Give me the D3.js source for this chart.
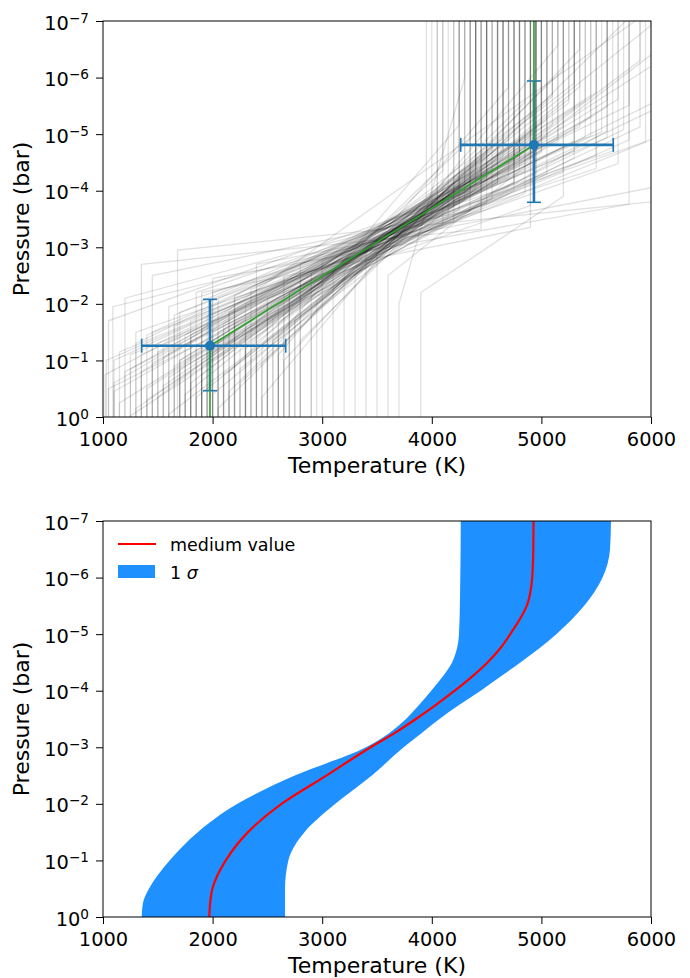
<!DOCTYPE html>
<html><head><meta charset="utf-8">
<script src="https://cdn.jsdelivr.net/npm/d3@7"></script>
<style>
body{margin:0;background:#fff}
text{font-family:"DejaVu Sans",sans-serif;fill:#000}
</style>
</head><body>
<svg id="c" width="690" height="978"></svg>
<script>
// ---------- DATA ----------
// Top panel: posterior sample profiles [T1 (K), log10 P1 (bar), T2 (K), log10 P2 (bar)]
const samples = [
 [1980,-1.10,4930,-4.60],[1350,-0.80,4300,-4.15],[2650,-1.80,5600,-5.06],[1700,-1.00,5200,-5.14],
 [2200,-1.65,4600,-4.14],[1100,-0.60,3950,-3.85],[2400,-1.20,5900,-6.30],[1500,-1.15,4800,-4.37],
 [1850,-0.35,5000,-5.20],[2900,-2.55,5400,-5.59],[1250,-0.02,4400,-4.04],[2050,-2.10,4700,-4.24],
 [1680,-2.95,6500,-3.90],[3200,-2.60,5100,-5.70],[1400,-1.45,4500,-3.78],[2300,-1.20,4100,-4.35],
 [1050,-0.50,5300,-4.58],[2600,-1.65,6000,-6.92],[1900,-0.90,4800,-4.57],[2100,-1.55,5500,-5.74],
 [1600,-0.05,4600,-4.48],[3500,-2.90,5800,-4.90],[3900,-2.20,5200,-3.90],[1200,-2.10,4000,-3.56],
 [2500,-2.10,4900,-3.74],[1800,-1.70,5300,-4.71],[2750,-1.75,4400,-4.37],[1300,-1.30,5800,-5.51],
 [2000,-0.40,4250,-3.99],[1750,-1.45,4950,-4.48],[2200,-2.10,5700,-4.48],[1550,-1.05,4650,-4.60],
 [2450,-0.95,5100,-5.67],[1450,-2.50,4350,-3.65],[1950,-1.20,5050,-4.30],[2800,-2.70,6200,-5.04],
 [1150,-1.15,4750,-4.02],[2350,-2.25,5350,-5.13],[1650,-0.90,4150,-3.53],[2150,-0.45,4850,-5.57],
 [3300,-2.50,4550,-4.79],[1020,-0.75,5450,-5.30],[2550,-1.35,4450,-4.34],[1850,-2.20,5650,-4.70],
 [2250,-0.85,6100,-6.55],[1400,-0.50,4050,-3.81],[2700,-1.95,5000,-4.89],[1750,-1.00,4400,-4.51],
 [2050,-1.50,4950,-4.21],[3000,-2.75,5500,-4.63],[1300,-1.50,4200,-3.45],[2400,-2.70,6500,-4.24],
 [1600,-1.15,5900,-5.13],[2600,-1.10,4700,-5.83],[1900,-2.20,4900,-3.35],[1100,-1.00,4600,-4.15],
 [2050,-0.15,5200,-6.14],[3700,-2.00,4300,-6.00],[1500,-0.35,4900,-5.37],[2300,-1.30,5600,-5.49],
 [1700,-1.85,4250,-3.66],[2900,-1.80,4650,-4.93],[1250,-0.85,5050,-4.97],[2150,-1.85,5950,-4.86],
 [1800,-1.40,4500,-4.33],[3400,-3.00,6100,-5.50],[1950,-0.95,5250,-5.55],[2500,-1.70,4800,-4.63],
 [1050,-1.70,4350,-4.00],[2650,-1.00,5350,-6.50],[1600,-1.95,5500,-4.39],[2250,-0.60,4500,-4.68],
 [1450,-1.50,4750,-4.42],[2000,-2.45,5800,-3.76],[3100,-2.60,5300,-5.90],[1350,-2.70,4450,-3.32],
 [1750,-0.40,4600,-4.85],[2350,-1.25,4950,-5.10],[1900,-2.05,5450,-4.97],[2100,-0.75,4350,-4.05],
 [1150,-0.25,5600,-5.60],[2700,-2.20,5750,-5.08],[1650,-1.80,4050,-3.77],[2450,-0.35,5150,-6.57],
 [1550,-1.25,5150,-4.94],[2000,-1.15,4550,-3.86],[3600,-2.50,4900,-4.50],[1850,-1.00,5700,-5.62],
 [2200,-2.15,4250,-4.10],[1250,-1.10,4850,-3.95],[2600,-1.95,6600,-6.95],[2300,-2.00,6800,-6.30],
 [1900,-1.55,6400,-7.75],[2800,-1.35,5900,-7.25],[2050,-1.30,4650,-4.80],[1700,-0.85,4750,-4.15],
 [2400,-1.70,4850,-4.80],[1950,-1.30,5000,-4.70],[2150,-1.85,4400,-4.35],[1800,-0.75,4900,-4.65],
 [1090,-1.95,4100,-3.40],[1030,-1.00,4950,-4.30],
 [1900,-1.00,4700,-4.61],[2300,-1.60,5000,-4.98],[1600,-0.70,4800,-4.69],[2100,-1.20,4600,-4.58],
 [2500,-2.00,4450,-4.01],[1400,-0.30,5100,-5.16],[2200,-1.90,5000,-4.68],[1800,-0.60,4500,-4.65],
 [2700,-2.20,4950,-4.70],[1500,-1.30,5400,-4.95],[2000,-1.50,4300,-3.84],[2350,-1.05,4650,-4.73],
 [1200,-0.80,5300,-4.88],[2600,-1.40,4550,-4.73],[1950,-1.80,5200,-4.33],[1700,-1.00,4400,-4.13],
 [2450,-1.30,5250,-5.62],[1350,-1.10,4750,-4.15],[2800,-2.40,5150,-4.87],[2150,-0.80,4350,-4.91],
 [1850,-1.25,4500,-4.26],[2250,-1.35,5050,-5.25],[1650,-1.60,4850,-4.35],[2550,-1.75,4700,-4.90],
 [1100,-0.45,4500,-4.19],[2050,-1.05,4950,-5.03],[2400,-2.30,5550,-5.04],[1750,-1.25,4200,-3.73],
 [2950,-2.05,4400,-4.44],[1550,-0.55,4900,-4.95],[2100,-1.65,4750,-4.49],[1900,-0.75,4650,-4.77],
 [2650,-2.50,5600,-4.94],[1450,-0.95,5050,-4.82],[2300,-1.45,5300,-5.45],[2000,-2.20,4450,-3.65],
 [1800,-1.45,4950,-4.66],[2500,-1.20,4250,-5.16],[1300,-0.15,4800,-4.77],[2750,-1.70,5350,-5.84]
];
// Top panel: median parameters with asymmetric errors
const medT = [1976, 4932];          // K
const medTlo = [1353, 4264];
const medThi = [2667, 5656];
const medLogP = [-1.26, -4.81];     // log10 bar
const medLogPlo = [-0.465, -3.795]; // deeper (higher P)
const medLogPhi = [-2.08, -5.94];   // higher altitude

// Bottom panel: profile percentiles at pressure levels (log10 bar)
const logPLevels = [0,-0.25,-0.5,-1,-1.5,-2,-2.5,-3,-3.25,-3.5,-3.75,-4,-4.25,-4.5,-4.75,-5,-5.5,-6,-6.5,-7];
const medianT = [1970,1978,1998,2120,2323,2629,3038,3442,3660,3855,4038,4209,4367,4508,4625,4716,4866,4916,4926,4928];
const lowerT  = [1353,1365,1419,1608,1865,2227,2750,3400,3610,3765,3885,3995,4100,4185,4230,4248,4256,4260,4263,4264];
const upperT  = [2661,2661,2661,2691,2838,3120,3453,3743,3906,4070,4252,4446,4628,4808,4982,5136,5390,5558,5626,5635];

// Axis ticks
const xMajor = [1000,2000,3000,4000,5000,6000];
const yMajorExp = [-7,-6,-5,-4,-3,-2,-1,0];

// ---------- DRAW ----------
const svg = d3.select("#c");
const X0 = 103, X1 = 651;
const x = d3.scaleLinear().domain([1000,6000]).range([X0,X1]);
const xMinor = d3.range(1000,6001,200).filter(v => v % 1000 !== 0);
const yMinor = [];
for (let e=-7; e<0; e++) for (let k=2;k<=9;k++) yMinor.push(k*Math.pow(10,e));

function drawAxes(y, top, bottom) {
  const gx = svg.append("g").attr("transform",`translate(0,${bottom})`);
  gx.call(d3.axisBottom(x).tickValues(xMinor).tickSize(4).tickFormat(""));
  gx.call(d3.axisBottom(x).tickValues(xMajor).tickSize(7).tickPadding(8).tickFormat(d3.format("d")));
  gx.select(".domain").remove();
  gx.selectAll("text").attr("font-size",19.4).attr("font-family","DejaVu Sans").attr("fill","#000");
  gx.selectAll("line").attr("stroke","#000");

  const gy = svg.append("g").attr("transform",`translate(${X0},0)`);
  gy.call(d3.axisLeft(y).tickValues(yMinor).tickSize(4).tickFormat(""));
  gy.call(d3.axisLeft(y).tickValues(yMajorExp.map(e=>Math.pow(10,e))).tickSize(7).tickPadding(7).tickFormat(""));
  gy.select(".domain").remove();
  gy.selectAll("line").attr("stroke","#000");
  yMajorExp.forEach(e => {
    const t = svg.append("text").attr("x", 89).attr("y", y(Math.pow(10,e)) + 8.5)
      .attr("text-anchor","end").attr("font-size",19.4);
    t.append("tspan").text("10");
    t.append("tspan").attr("font-size",13.6).attr("dy",-7).text(e===0 ? "0" : "\u2212" + (-e));
  });
  svg.append("rect").attr("x",X0).attr("y",top).attr("width",X1-X0).attr("height",bottom-top)
    .attr("fill","none").attr("stroke","#000").attr("stroke-width",1);
  svg.append("text").attr("x",(X0+X1)/2).attr("y",bottom+56).attr("text-anchor","middle")
    .attr("font-size",22).text("Temperature (K)");
  svg.append("text").attr("transform",`translate(29,${(top+bottom)/2}) rotate(-90)`)
    .attr("text-anchor","middle").attr("font-size",22).text("Pressure (bar)");
}

// ----- Top panel -----
const yT = d3.scaleLog().domain([1,1e-7]).range([417,21]);
const defs = svg.append("defs");
defs.append("clipPath").attr("id","clipT").append("rect").attr("x",X0).attr("y",21).attr("width",X1-X0).attr("height",396);
defs.append("clipPath").attr("id","clipB").append("rect").attr("x",X0).attr("y",521).attr("width",X1-X0).attr("height",396);

const gT = svg.append("g").attr("clip-path","url(#clipT)");
const lineT = d3.line().x(d=>x(d[0])).y(d=>yT(Math.pow(10,d[1])));
gT.selectAll("path.sample").data(samples).join("path").attr("class","sample")
  .attr("d", s => lineT([[s[0],0.5],[s[0],s[1]],[s[2],s[3]],[s[2],-7.5]]))
  .attr("fill","none").attr("stroke","#000").attr("stroke-opacity",0.12).attr("stroke-width",1.3);

// error bars
const eb = gT.append("g").attr("stroke","#1f77b4").attr("fill","none");
medT.forEach((t,i) => {
  const py = yT(Math.pow(10,medLogP[i]));
  const px = x(t);
  eb.append("line").attr("x1",x(medTlo[i])).attr("x2",x(medThi[i])).attr("y1",py).attr("y2",py).attr("stroke-width",2.6);
  eb.append("line").attr("x1",px).attr("x2",px).attr("y1",yT(Math.pow(10,medLogPlo[i]))).attr("y2",yT(Math.pow(10,medLogPhi[i]))).attr("stroke-width",2.6);
  [medTlo[i],medThi[i]].forEach(v => eb.append("line").attr("x1",x(v)).attr("x2",x(v)).attr("y1",py-7).attr("y2",py+7).attr("stroke-width",1.6));
  [medLogPlo[i],medLogPhi[i]].forEach(v => eb.append("line").attr("x1",px-7).attr("x2",px+7)
    .attr("y1",yT(Math.pow(10,v))).attr("y2",yT(Math.pow(10,v))).attr("stroke-width",1.6));
});
// median profile (green)
gT.append("path").attr("d", lineT([[medT[0],0.5],[medT[0],medLogP[0]],[medT[1],medLogP[1]],[medT[1],-7.5]]))
  .attr("fill","none").attr("stroke","#2ca02c").attr("stroke-width",1.6);
medT.forEach((t,i) => gT.append("circle").attr("cx",x(t)).attr("cy",yT(Math.pow(10,medLogP[i]))).attr("r",5).attr("fill","#1f77b4"));

drawAxes(yT, 21, 417);

// ----- Bottom panel -----
const yB = d3.scaleLog().domain([1,1e-7]).range([917,521]);
const gB = svg.append("g").attr("clip-path","url(#clipB)");
const idx = d3.range(logPLevels.length);
const area = d3.area().curve(d3.curveMonotoneY)
  .y(i => yB(Math.pow(10,logPLevels[i]))).x0(i => x(lowerT[i])).x1(i => x(upperT[i]));
gB.append("path").attr("d", area(idx)).attr("fill","#1e90ff");
const medLine = d3.line().curve(d3.curveMonotoneY).x(i => x(medianT[i])).y(i => yB(Math.pow(10,logPLevels[i])));
gB.append("path").attr("d", medLine(idx)).attr("fill","none").attr("stroke","#ff0000").attr("stroke-width",2.2);

drawAxes(yB, 521, 917);

// legend
svg.append("line").attr("x1",118).attr("x2",156).attr("y1",544).attr("y2",544).attr("stroke","#ff0000").attr("stroke-width",2.2);
svg.append("text").attr("x",170).attr("y",550.5).attr("font-size",17.5).text("medium value");
svg.append("rect").attr("x",118).attr("y",565).attr("width",37).attr("height",13).attr("fill","#1e90ff");
const sig = svg.append("text").attr("x",170).attr("y",578.5).attr("font-size",17.5);
sig.append("tspan").text("1 ");
sig.append("tspan").attr("font-style","italic").text("\u03c3");
</script>
</body></html>
